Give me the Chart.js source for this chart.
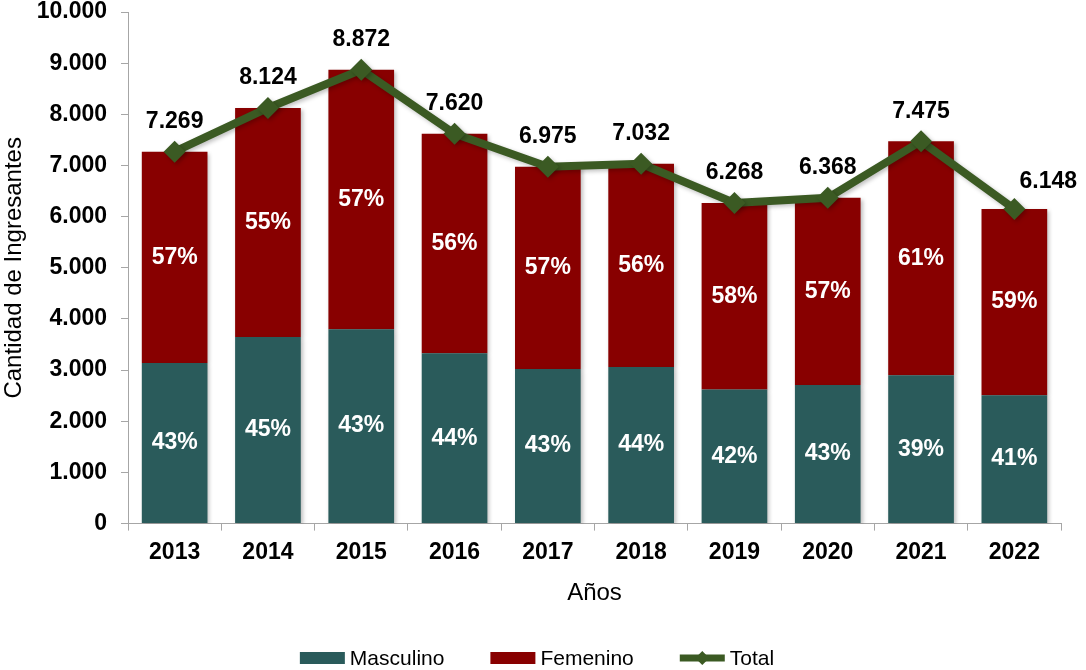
<!DOCTYPE html>
<html>
<head>
<meta charset="utf-8">
<script src="https://cdn.jsdelivr.net/npm/chart.js@4/dist/chart.umd.min.js"></script>
<style>
  html, body { margin: 0; padding: 0; background: #fff; }
  #wrap { width: 1086px; height: 670px; }
</style>
</head>
<body>
<div id="wrap"><canvas id="chart" width="1086" height="670"></canvas></div>
<script>
const years = ['2013', '2014', '2015', '2016', '2017', '2018', '2019', '2020', '2021', '2022'];
const masculino = [3137, 3647, 3800, 3330, 3020, 3060, 2620, 2710, 2900, 2510];
const femenino = [4132, 4477, 5072, 4290, 3955, 3972, 3648, 3658, 4575, 3638];
const total = [7269, 8124, 8872, 7620, 6975, 7032, 6268, 6368, 7475, 6148];
const pctMasculino = [43, 45, 43, 44, 43, 44, 42, 43, 39, 41];
const pctFemenino = [57, 55, 57, 56, 57, 56, 58, 57, 61, 59];
const yMin = 0, yMax = 10000, yStep = 1000;

const FONT = "'Liberation Sans', Arial, sans-serif";
const C_MASC = '#2a5b5b';
const C_FEM = '#880000';
const C_TOTAL = '#3b5a23';
const C_AXIS = '#a6a6a6';

function fmt(n) {
    return n.toString().replace(/\B(?=(\d{3})+(?!\d))/g, '.');
}

// soft shadow under bars and line, like the original
const shadowPlugin = {
    id: 'shadow',
    beforeDatasetDraw(chart) {
        const ctx = chart.ctx;
        ctx.save();
        ctx.shadowColor = 'rgba(0,0,0,0.25)';
        ctx.shadowBlur = 4;
        ctx.shadowOffsetX = 2;
        ctx.shadowOffsetY = 2;
    },
    afterDatasetDraw(chart) {
        chart.ctx.restore();
    }
};

const labelsPlugin = {
    id: 'labels',
    afterDatasetsDraw(chart) {
        const ctx = chart.ctx;
        ctx.save();
        ctx.font = 'bold 23px ' + FONT;
        ctx.textAlign = 'center';
        ctx.textBaseline = 'middle';

        [[0, pctMasculino], [1, pctFemenino]].forEach(([di, pcts]) => {
            chart.getDatasetMeta(di).data.forEach((bar, i) => {
                ctx.fillStyle = '#ffffff';
                ctx.fillText(pcts[i] + '%', bar.x, (bar.y + bar.base) / 2);
            });
        });

        chart.getDatasetMeta(2).data.forEach((pt, i) => {
            const last = i === total.length - 1;
            ctx.fillStyle = '#000000';
            ctx.fillText(fmt(total[i]), last ? pt.x + 34 : pt.x, last ? pt.y - 27 : pt.y - 30);
        });
        ctx.restore();
    }
};

const legendPlugin = {
    id: 'customLegend',
    afterDraw(chart) {
        const ctx = chart.ctx;
        const items = [
            { text: 'Masculino', color: C_MASC, type: 'box' },
            { text: 'Femenino', color: C_FEM, type: 'box' },
            { text: 'Total', color: C_TOTAL, type: 'line' }
        ];
        const boxW = 45, gapText = 5, gapItem = 46, cy = 658;
        ctx.save();
        ctx.font = '21px ' + FONT;
        ctx.textBaseline = 'middle';
        ctx.textAlign = 'left';
        let totalW = 0;
        items.forEach((it, i) => {
            it.w = ctx.measureText(it.text).width;
            totalW += boxW + gapText + it.w + (i ? gapItem : 0);
        });
        let x = chart.width / 2 - totalW / 2 - 6;
        items.forEach((it) => {
            ctx.fillStyle = it.color;
            if (it.type === 'box') {
                ctx.fillRect(x, cy - 6, boxW, 12);
            } else {
                ctx.fillRect(x, cy - 3.5, boxW, 7);
                ctx.beginPath();
                ctx.moveTo(x + boxW / 2, cy - 7);
                ctx.lineTo(x + boxW / 2 + 7, cy);
                ctx.lineTo(x + boxW / 2, cy + 7);
                ctx.lineTo(x + boxW / 2 - 7, cy);
                ctx.closePath();
                ctx.fill();
            }
            ctx.fillStyle = '#000000';
            ctx.fillText(it.text, x + boxW + gapText, cy + 1);
            x += boxW + gapText + it.w + gapItem;
        });
        ctx.restore();
    }
};

const ctx = document.getElementById('chart').getContext('2d');
const chart = new Chart(ctx, {
    type: 'bar',
    data: {
        labels: years,
        datasets: [
            {
                label: 'Masculino',
                data: masculino,
                backgroundColor: C_MASC,
                stack: 'bars',
                order: 2,
                barPercentage: 0.704,
                categoryPercentage: 1
            },
            {
                label: 'Femenino',
                data: femenino,
                backgroundColor: C_FEM,
                stack: 'bars',
                order: 2,
                barPercentage: 0.704,
                categoryPercentage: 1
            },
            {
                type: 'line',
                label: 'Total',
                data: total,
                stack: 'line',
                order: 0,
                borderColor: C_TOTAL,
                backgroundColor: C_TOTAL,
                borderWidth: 8,
                tension: 0,
                pointStyle: 'rectRot',
                pointRadius: 11,
                pointHoverRadius: 11,
                pointBorderWidth: 0,
                pointBackgroundColor: C_TOTAL,
                clip: false
            }
        ]
    },
    options: {
        responsive: false,
        animation: false,
        devicePixelRatio: 1,
        layout: {
            autoPadding: false,
            padding: { top: 12, right: 25, bottom: 58, left: 0 }
        },
        plugins: {
            legend: { display: false },
            tooltip: { enabled: false }
        },
        scales: {
            x: {
                stacked: true,
                grid: {
                    drawOnChartArea: false,
                    drawTicks: true,
                    tickLength: 7,
                    color: C_AXIS,
                    offset: true
                },
                border: { color: C_AXIS, width: 1 },
                ticks: {
                    color: '#000',
                    padding: 8,
                    font: { family: FONT, size: 23, weight: 'bold' },
                    maxRotation: 0
                },
                title: {
                    display: true,
                    text: 'Años',
                    color: '#000',
                    font: { family: FONT, size: 24 },
                    padding: { top: 5, bottom: 4 }
                }
            },
            y: {
                stacked: true,
                min: yMin,
                max: yMax,
                grid: {
                    drawOnChartArea: false,
                    drawTicks: true,
                    tickLength: 7,
                    color: C_AXIS
                },
                border: { color: C_AXIS, width: 1 },
                ticks: {
                    stepSize: yStep,
                    color: '#000',
                    padding: 14,
                    font: { family: FONT, size: 23, weight: 'bold', lineHeight: 1 },
                    callback: (v) => fmt(v)
                },
                title: {
                    display: true,
                    text: 'Cantidad de Ingresantes',
                    color: '#000',
                    font: { family: FONT, size: 24 },
                    padding: { top: 0, bottom: 0 }
                },
                afterFit: (scale) => {
                    scale.width = 128;
                    scale.paddingTop = 0;
                    scale.paddingBottom = 0;
                }
            }
        }
    },
    plugins: [shadowPlugin, labelsPlugin, legendPlugin]
});
</script>
</body>
</html>
